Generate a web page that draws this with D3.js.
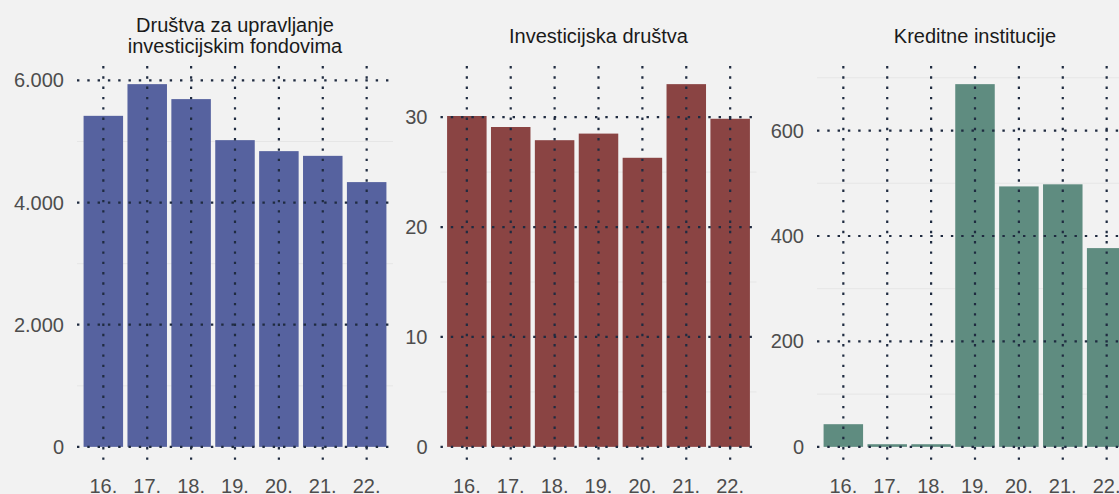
<!DOCTYPE html>
<html>
<head>
<meta charset="utf-8">
<script src="https://cdn.jsdelivr.net/npm/d3@7"></script>
<style>
  html, body { margin: 0; padding: 0; background: #f2f2f2; }
  svg { display: block; font-family: "Liberation Sans", Arial, sans-serif; }
</style>
</head>
<body>
<svg id="chart"></svg>
<script>
// data
const years = ["16.", "17.", "18.", "19.", "20.", "21.", "22."];
const drustvaFondovi = [5420, 5939, 5694, 5022, 4842, 4765, 4335];
const investicijskaDrustva = [30.1, 29.1, 27.9, 28.5, 26.3, 33.0, 29.85];
const kreditneInstitucije = [43, 5, 5, 688, 494, 498, 377];
const ticksFondovi = [0, 2000, 4000, 6000];
const ticksInvest = [0, 10, 20, 30];
const ticksKredit = [0, 200, 400, 600];
const titles = [
  ["Društva za upravljanje", "investicijskim fondovima"],
  ["Investicijska društva"],
  ["Kreditne institucije"]
];

const width = 1119, height = 494;
const panelTop = 66, panelBottom = 465;
const panelW = 316;
const panelLeft = [77, 440.5, 817];
const colors = ["#56629f", "#8a4443", "#5f8c80"];

const fmt = d3.formatLocale({ decimal: ",", thousands: ".", grouping: [3], currency: ["", ""] }).format(",d");

const panels = [
  { values: drustvaFondovi, ticks: ticksFondovi },
  { values: investicijskaDrustva, ticks: ticksInvest },
  { values: kreditneInstitucije, ticks: ticksKredit }
];

const svg = d3.select("#chart")
  .attr("width", width)
  .attr("height", height);

svg.append("rect")
  .attr("width", width)
  .attr("height", height)
  .attr("fill", "#f2f2f2");

panels.forEach((p, i) => {
  const x0 = panelLeft[i];
  const g = svg.append("g").attr("transform", "translate(" + x0 + ",0)");

  const max = d3.max(p.values);
  const y = d3.scaleLinear()
    .domain([-0.05 * max, 1.05 * max])
    .range([panelBottom, panelTop]);

  // 0.6 step of room each side, bars 0.9 of a step wide
  const x = d3.scaleBand()
    .domain(years)
    .range([0, panelW])
    .paddingInner(0.1)
    .paddingOuter(0.15);

  // minor grid
  const step = p.ticks[1] - p.ticks[0];
  const minor = d3.range(step / 2, 1.05 * max, step);
  g.selectAll(".minor")
    .data(minor)
    .enter()
    .append("line")
    .attr("x1", 0)
    .attr("x2", panelW)
    .attr("y1", d => y(d))
    .attr("y2", d => y(d))
    .attr("stroke", "#e6e6e6")
    .attr("stroke-width", 1);

  // bars
  g.selectAll(".bar")
    .data(p.values)
    .enter()
    .append("rect")
    .attr("x", (d, j) => x(years[j]))
    .attr("width", x.bandwidth())
    .attr("y", d => y(d))
    .attr("height", d => y(0) - y(d))
    .attr("fill", colors[i]);

  // major grid, dotted, drawn over the bars
  g.selectAll(".hgrid")
    .data(p.ticks)
    .enter()
    .append("line")
    .attr("x1", 0)
    .attr("x2", panelW)
    .attr("y1", d => y(d))
    .attr("y2", d => y(d))
    .attr("stroke", "#1f2b40")
    .attr("stroke-width", 2.2)
    .attr("stroke-dasharray", "2.4 7.9");

  g.selectAll(".vgrid")
    .data(years)
    .enter()
    .append("line")
    .attr("x1", d => x(d) + x.bandwidth() / 2)
    .attr("x2", d => x(d) + x.bandwidth() / 2)
    .attr("y1", panelTop)
    .attr("y2", panelBottom)
    .attr("stroke", "#1f2b40")
    .attr("stroke-width", 2.2)
    .attr("stroke-dasharray", "2.4 7.9");

  // y tick labels
  g.selectAll(".ylab")
    .data(p.ticks)
    .enter()
    .append("text")
    .attr("x", -13)
    .attr("y", d => y(d))
    .attr("dy", "0.35em")
    .attr("text-anchor", "end")
    .attr("font-size", 20)
    .attr("fill", "#4d4d4d")
    .text(d => fmt(d));

  // x tick labels
  g.selectAll(".xlab")
    .data(years)
    .enter()
    .append("text")
    .attr("x", d => x(d) + x.bandwidth() / 2)
    .attr("y", 493)
    .attr("text-anchor", "middle")
    .attr("font-size", 20)
    .attr("fill", "#4d4d4d")
    .text(d => d);

  // facet title
  const t = titles[i];
  const baseY = t.length === 2 ? 32 : 42.5;
  g.selectAll(".title")
    .data(t)
    .enter()
    .append("text")
    .attr("x", panelW / 2)
    .attr("y", (d, k) => baseY + k * 21)
    .attr("text-anchor", "middle")
    .attr("font-size", 20)
    .attr("fill", "#1a1a1a")
    .text(d => d);
});
</script>
</body>
</html>
